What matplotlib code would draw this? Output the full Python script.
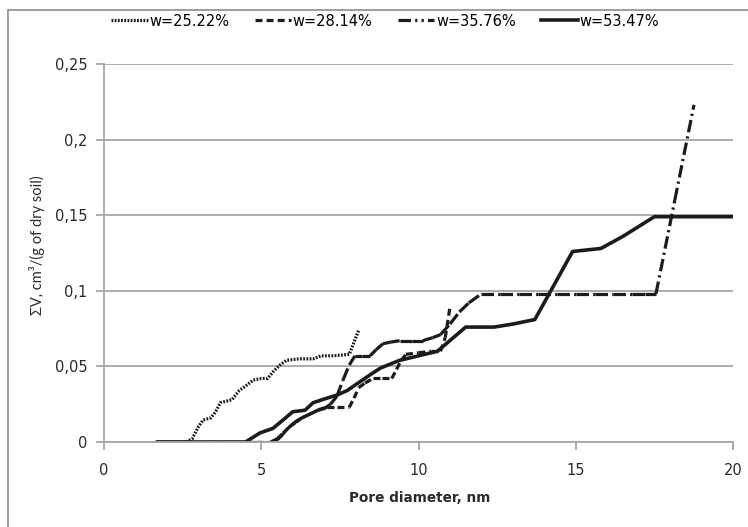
import matplotlib
matplotlib.use("Agg")
import matplotlib.pyplot as plt
from matplotlib.collections import LineCollection
from matplotlib.lines import Line2D
from matplotlib.patches import Rectangle

plt.rcParams['font.family'] = ['DejaVu Sans']
plt.rcParams['lines.scale_dashes'] = False

# cumulative pore volume vs pore diameter for four water contents
labels = ['w=25.22%', 'w=28.14%', 'w=35.76%', 'w=53.47%']

d_25 = [1.7, 2.6, 2.8, 3.0, 3.15, 3.4, 3.55, 3.7, 4.07, 4.3, 4.5, 4.75, 5.0, 5.2,
        5.4, 5.6, 5.8, 6.2, 6.65, 6.9, 7.3, 7.8, 7.95, 8.1]
v_25 = [0, 0, 0.002, 0.010, 0.0145, 0.016, 0.020, 0.026, 0.028, 0.034, 0.037,
        0.041, 0.042, 0.042, 0.047, 0.051, 0.054, 0.055, 0.055, 0.057, 0.057,
        0.058, 0.066, 0.074]

d_28 = [1.7, 5.3, 5.5, 5.7, 5.9, 6.1, 6.3, 6.5, 6.7, 6.9, 7.1, 7.4, 7.8, 7.95,
        8.1, 8.3, 8.55, 8.85, 9.15, 9.3, 9.45, 9.6, 10.0, 10.4, 10.7, 10.85, 11.0]
v_28 = [0, 0, 0.002, 0.006, 0.010, 0.013, 0.016, 0.018, 0.020, 0.022, 0.023,
        0.023, 0.023, 0.029, 0.036, 0.039, 0.042, 0.042, 0.042, 0.048, 0.054,
        0.058, 0.059, 0.060, 0.060, 0.069, 0.089]

d_35 = [1.7, 5.4, 5.6, 5.8, 6.0, 6.2, 6.4, 6.6, 6.8, 7.0, 7.2, 7.4, 7.6, 7.8,
        7.98, 8.2, 8.46, 8.65, 8.87, 9.1, 9.4, 9.8, 10.14, 10.45, 10.7, 11.0,
        11.3, 11.6, 12.0, 12.6, 13.2, 13.8, 14.4, 15.0, 15.6, 16.2, 16.8, 17.2,
        17.55, 18.15, 18.76]
v_35 = [0, 0, 0.003, 0.008, 0.012, 0.015, 0.017, 0.019, 0.021, 0.022, 0.025,
        0.030, 0.041, 0.051, 0.057, 0.057, 0.057, 0.061, 0.065, 0.066, 0.067,
        0.067, 0.067, 0.069, 0.071, 0.078, 0.086, 0.092, 0.098, 0.098, 0.098,
        0.098, 0.098, 0.098, 0.098, 0.098, 0.098, 0.098, 0.098, 0.160, 0.223]

d_53 = [1.7, 4.5, 4.96, 5.37, 5.69, 6.0, 6.39, 6.65, 7.09, 7.4, 7.73, 8.08,
        8.5, 8.8, 9.4, 10.0, 10.6, 11.5, 12.4, 13.0, 13.7, 14.9, 15.8, 16.5,
        17.5, 20.0]
v_53 = [0, 0, 0.006, 0.009, 0.0145, 0.020, 0.021, 0.026, 0.029, 0.031, 0.034,
        0.039, 0.045, 0.049, 0.054, 0.057, 0.060, 0.076, 0.076, 0.078, 0.081,
        0.126, 0.128, 0.136, 0.149, 0.149]

y_ticks = [0, 0.05, 0.1, 0.15, 0.2, 0.25]
y_tick_labels = ['0', '0,05', '0,1', '0,15', '0,2', '0,25']
x_ticks = [0, 5, 10, 15, 20]

ink = '#1c1c1c'
grey = '#a6a6a6'
txt = '#2a2a2a'
lw = 2.3
fs = 10.5
dotted = (0, (1.3, 1.0))
dashed = (0, (5.0, 3.0))
dashdot = (0, (9.0, 3.0, 1.6, 3.0))

W, H = 748, 527
fig = plt.figure(figsize=(W / 100, H / 100), dpi=100)
ax = fig.add_axes([104 / W, 1 - 442 / H, (733 - 104) / W, (442 - 64) / H])

# outer chart frame
fig.patches.append(Rectangle((8 / W, -0.1), 1.2, 1 - 10 / H + 0.1,
                             transform=fig.transFigure, fill=False,
                             edgecolor='#8c8c8c', linewidth=1.2))


def segments(xs, ys):
    # one path per segment so the dash pattern restarts at each point
    return [[(xs[i], ys[i]), (xs[i + 1], ys[i + 1])] for i in range(len(xs) - 1)]


ax.plot(d_25, v_25, color=ink, lw=lw, linestyle=dotted, dash_capstyle='butt')
ax.add_collection(LineCollection(segments(d_28, v_28), colors=ink, linewidths=lw,
                                 linestyles=[dashed], capstyle='butt'))
ax.add_collection(LineCollection(segments(d_35, v_35), colors=ink, linewidths=lw,
                                 linestyles=[dashdot], capstyle='butt'))
ax.plot(d_53, v_53, color=ink, lw=lw + 0.3, solid_joinstyle='round')

ax.set_xlim(0, 20)
ax.set_ylim(0, 0.25)
ax.set_xticks(x_ticks)
ax.set_yticks(y_ticks)
ax.set_yticklabels(y_tick_labels)
ax.grid(axis='y', color=grey, linewidth=1.3)
ax.set_axisbelow(True)
for side in ['top', 'right']:
    ax.spines[side].set_visible(False)
for side in ['left', 'bottom']:
    ax.spines[side].set_color(grey)
    ax.spines[side].set_linewidth(1.3)
ax.tick_params(axis='both', direction='out', length=6, width=1.3, color=grey,
               labelsize=fs, labelcolor=txt)
ax.tick_params(axis='y', pad=6)
ax.tick_params(axis='x', pad=9)

fig.text(420 / W, 1 - 498 / H, 'Pore diameter, nm', ha='center', va='center',
         fontsize=9.8, fontweight='bold', color=txt)
fig.text(37 / W, 1 - 245 / H, 'ΣV, cm³/(g of dry soil)', ha='center',
         va='center', rotation=90, fontsize=10.5, color=txt,
         family=['Lato', 'DejaVu Sans'])

handles = [Line2D([], [], color=ink, lw=lw, linestyle=dotted, dash_capstyle='butt'),
           Line2D([], [], color=ink, lw=lw, linestyle=dashed, dash_capstyle='butt'),
           Line2D([], [], color=ink, lw=lw, linestyle=(0, (9.0, 3.0, 1.6, 3.0, 1.6, 3.0)),
                  dash_capstyle='butt'),
           Line2D([], [], color=ink, lw=lw + 0.3)]
fig.legend(handles, labels, loc='center', bbox_to_anchor=(385 / W, 1 - 21 / H),
           ncol=4, frameon=False, fontsize=fs, handlelength=2.5,
           handletextpad=0.1, columnspacing=1.75)

fig.savefig('out.png', dpi=100)
